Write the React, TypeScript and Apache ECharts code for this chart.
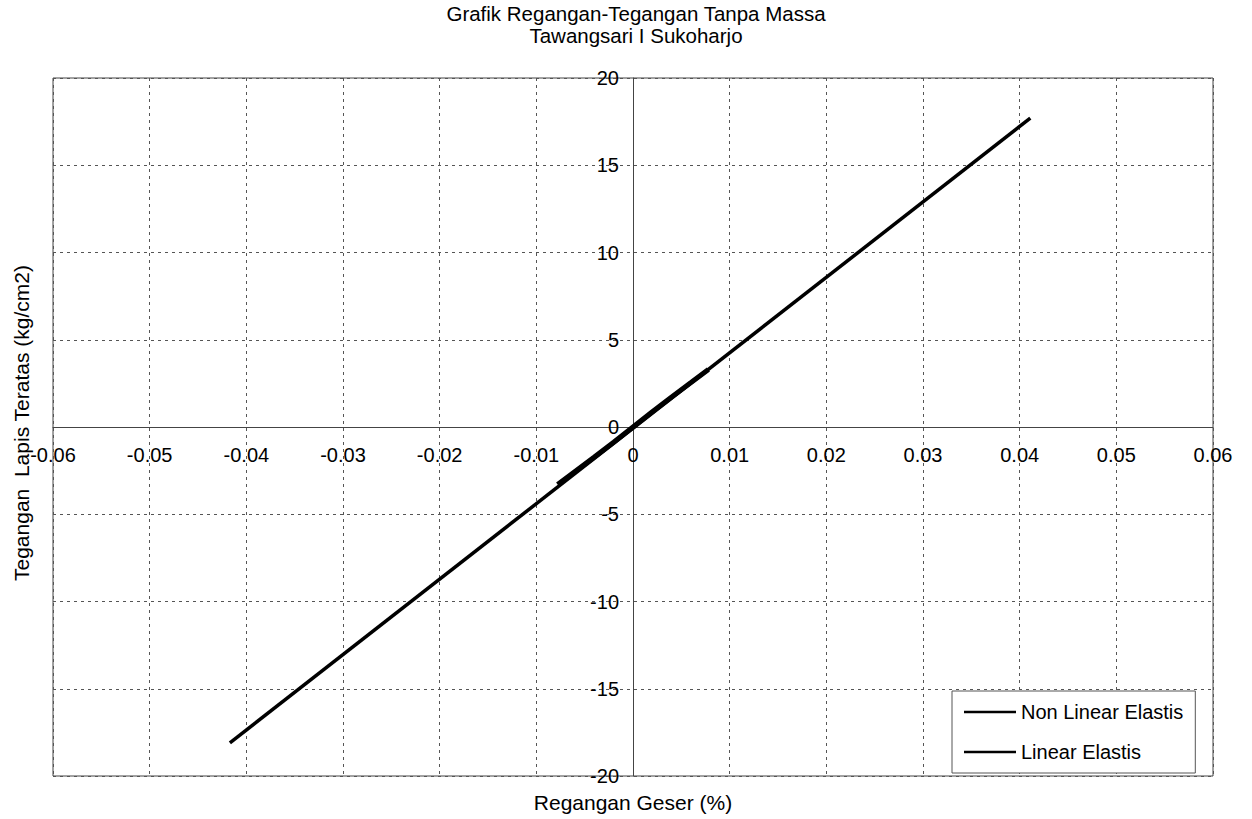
import React, { useEffect, useRef } from "react";
import * as echarts from "echarts";

const titleLines = ["Grafik Regangan-Tegangan Tanpa Massa", "Tawangsari I Sukoharjo"];
const xAxisName = "Regangan Geser (%)";
const yAxisName = "Tegangan  Lapis Teratas (kg/cm2)";

const xMin = -0.06;
const xMax = 0.06;
const xStep = 0.01;
const yMin = -20;
const yMax = 20;
const yStep = 5;

const nonLinearName = "Non Linear Elastis";
const nonLinearStrain = [-0.0078, -0.006, -0.004, -0.002, 0, 0.002, 0.004, 0.006, 0.0078];
const nonLinearStress = [-3.3, -2.55, -1.72, -0.87, 0, 0.87, 1.72, 2.55, 3.3];

const linearName = "Linear Elastis";
const linearStrain = [-0.0417, 0.0411];
const linearStress = [-18.1, 17.7];

const FONT = "'Liberation Sans', Arial, sans-serif";

const W = 1252;
const H = 819;
const GRID = { left: 53, right: 39, top: 78, bottom: 43 };

export default function App() {
  const ref = useRef<HTMLDivElement>(null);

  useEffect(() => {
    document.body.style.margin = "0";
    if (!ref.current) return;
    const chart = echarts.init(ref.current, undefined, { renderer: "svg" });

    const gridLine = { show: true, lineStyle: { color: "#555", width: 1, type: [3, 4] as any } };
    const plotW = W - GRID.left - GRID.right;
    const plotH = H - GRID.top - GRID.bottom;
    // zero lies at the centre of both symmetric ranges
    const xZeroShift = -plotH * (0 - yMin) / (yMax - yMin);
    const yZeroShift = -plotW * (0 - xMin) / (xMax - xMin);

    chart.setOption({
      animation: false,
      backgroundColor: "#fff",
      textStyle: { fontFamily: FONT, color: "#000" },
      title: {
        text: titleLines.join("\n"),
        left: 636,
        top: 2,
        padding: 0,
        textAlign: "center",
        textStyle: { fontSize: 20.5, fontWeight: "normal", color: "#000", lineHeight: 22, fontFamily: FONT },
      },
      grid: { ...GRID, show: true, borderColor: "#444", borderWidth: 1, containLabel: false },
      legend: {
        orient: "vertical",
        left: 952,
        top: 691,
        padding: [11, 12, 11, 12],
        icon: "rect",
        itemWidth: 52,
        itemHeight: 2.5,
        itemGap: 20,
        borderColor: "#555",
        borderWidth: 1,
        backgroundColor: "#fff",
        itemStyle: { color: "#000" },
        textStyle: { fontSize: 20, color: "#000", fontFamily: FONT, lineHeight: 20 },
        data: [nonLinearName, linearName],
      },
      xAxis: {
        type: "value",
        min: xMin,
        max: xMax,
        interval: xStep,
        position: "bottom",
        offset: xZeroShift,
        axisLine: { show: true, onZero: false, lineStyle: { color: "#444", width: 1 } },
        axisTick: { show: false },
        axisLabel: {
          fontSize: 20,
          color: "#000",
          margin: 18,
          fontFamily: FONT,
          formatter: (v: number) => String(Number(v.toFixed(2))),
        },
        splitLine: gridLine,
      },
      yAxis: {
        type: "value",
        min: yMin,
        max: yMax,
        interval: yStep,
        position: "left",
        offset: yZeroShift,
        axisLine: { show: true, onZero: false, lineStyle: { color: "#444", width: 1 } },
        axisTick: { show: false },
        axisLabel: { fontSize: 20, color: "#000", margin: 14, fontFamily: FONT },
        splitLine: gridLine,
      },
      graphic: [
        {
          type: "text",
          x: 633,
          y: 802,
          style: { text: xAxisName, fontSize: 21, fill: "#000", textAlign: "center", textVerticalAlign: "middle", fontFamily: FONT },
        },
        {
          type: "text",
          x: 21,
          y: 423,
          rotation: Math.PI / 2,
          style: { text: yAxisName, fontSize: 21, fill: "#000", textAlign: "center", textVerticalAlign: "middle", fontFamily: FONT },
        },
      ],
      series: [
        {
          name: nonLinearName,
          type: "line",
          symbol: "none",
          showSymbol: false,
          lineStyle: { color: "#000", width: 5 },
          itemStyle: { color: "#000" },
          data: nonLinearStrain.map((x, i) => [x, nonLinearStress[i]]),
          z: 3,
        },
        {
          name: linearName,
          type: "line",
          symbol: "none",
          showSymbol: false,
          lineStyle: { color: "#000", width: 3.5 },
          itemStyle: { color: "#000" },
          data: linearStrain.map((x, i) => [x, linearStress[i]]),
          z: 4,
        },
      ],
    });

    return () => chart.dispose();
  }, []);

  return <div ref={ref} style={{ width: W, height: H }} />;
}
